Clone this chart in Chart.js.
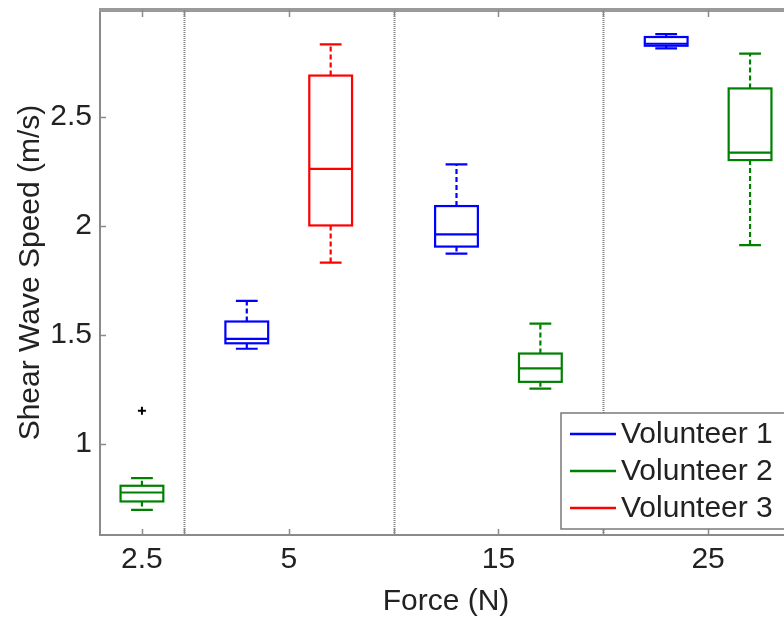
<!DOCTYPE html>
<html>
<head>
<meta charset="utf-8">
<script src="https://cdn.jsdelivr.net/npm/chart.js@4.4.1/dist/chart.umd.min.js"></script>
<style>
  html, body { margin: 0; padding: 0; background: #fff; overflow: hidden; }
  #wrap { width: 784px; height: 627px; overflow: hidden; }
</style>
</head>
<body>
<div id="wrap"><canvas id="chart" width="800" height="627"></canvas></div>
<script>
// categories and tick labels
const forces = ["2.5", "5", "15", "25"];
const yTicks = [1, 1.5, 2, 2.5];

// Volunteer 1
const v1Force = ["5", "15", "25"];
const v1Min = [1.435, 1.872, 2.814];
const v1Q1 = [1.46, 1.904, 2.826];
const v1Median = [1.48, 1.96, 2.835];
const v1Q3 = [1.56, 2.09, 2.866];
const v1Max = [1.655, 2.281, 2.879];
const v1Outliers = [[], [], []];

// Volunteer 2
const v2Force = ["2.5", "15", "25"];
const v2Min = [0.695, 1.252, 1.911];
const v2Q1 = [0.734, 1.283, 2.301];
const v2Median = [0.775, 1.345, 2.335];
const v2Q3 = [0.806, 1.413, 2.63];
const v2Max = [0.841, 1.55, 2.79];
const v2Outliers = [[1.15], [], []];

// Volunteer 3
const v3Force = ["5"];
const v3Min = [1.83];
const v3Q1 = [2.001];
const v3Median = [2.261];
const v3Q3 = [2.689];
const v3Max = [2.832];
const v3Outliers = [[]];

const FONT = "'Liberation Sans', Arial, Helvetica, sans-serif";
const TEXT = "#222";

// layout of the groups on the x axis (first group is narrow, others 5 units)
const groupCenter = [1, 4.5, 9.5, 14.5];
const separators = [2, 7, 12];
const allForces = [v1Force, v2Force, v3Force];

function boxX(force, who) {
  const g = forces.indexOf(force);
  const members = [0, 1, 2].filter((k) => allForces[k].includes(force));
  if (members.length === 1) return groupCenter[g];
  return groupCenter[g] + (members.indexOf(who) === 0 ? -1 : 1);
}

function series(label, who, color, force, min, q1, med, q3, max, outliers) {
  return {
    label,
    borderColor: color,
    backgroundColor: color,
    showLine: false,
    pointRadius: 0,
    data: force.map((f, i) => ({ x: boxX(f, who), y: med[i] })),
    stats: { min, q1, med, q3, max, outliers },
  };
}

const boxPlugin = {
  id: "boxes",
  beforeDatasetsDraw(chart) {
    const { ctx, chartArea: a, scales } = chart;
    ctx.save();
    // dotted separators
    ctx.strokeStyle = "#808080";
    ctx.lineWidth = 2;
    ctx.setLineDash([1, 1]);
    separators.forEach((s) => {
      const x = Math.round(scales.x.getPixelForValue(s)) + 0.5;
      ctx.beginPath();
      ctx.moveTo(x, a.top);
      ctx.lineTo(x, a.bottom);
      ctx.stroke();
    });
    ctx.setLineDash([]);
    // frame
    ctx.strokeStyle = "#8a8a8a";
    ctx.lineWidth = 2;
    ctx.beginPath();
    ctx.moveTo(a.left, a.top);
    ctx.lineTo(a.left, a.bottom);
    ctx.lineTo(a.right, a.bottom);
    ctx.stroke();
    ctx.strokeStyle = "#9a9a9a";
    ctx.lineWidth = 4;
    ctx.beginPath();
    ctx.moveTo(a.left - 1, a.top);
    ctx.lineTo(a.right, a.top);
    ctx.stroke();
    // inward ticks
    ctx.strokeStyle = "#8a8a8a";
    ctx.lineWidth = 1.5;
    groupCenter.concat(separators).forEach((v) => {
      const x = Math.round(scales.x.getPixelForValue(v)) + 0.5;
      ctx.beginPath();
      ctx.moveTo(x, a.bottom);
      ctx.lineTo(x, a.bottom - 6);
      ctx.moveTo(x, a.top);
      ctx.lineTo(x, a.top + 7);
      ctx.stroke();
    });
    yTicks.forEach((v) => {
      const y = Math.round(scales.y.getPixelForValue(v)) + 0.5;
      ctx.beginPath();
      ctx.moveTo(a.left, y);
      ctx.lineTo(a.left + 6, y);
      ctx.stroke();
    });
    ctx.restore();
  },
  afterDatasetsDraw(chart) {
    const { ctx, scales } = chart;
    const xs = scales.x, ys = scales.y;
    const unit = xs.getPixelForValue(1) - xs.getPixelForValue(0);
    const half = unit * 0.51;
    const cap = unit * 0.26;
    ctx.save();
    chart.data.datasets.forEach((ds) => {
      const st = ds.stats;
      ctx.strokeStyle = ds.borderColor;
      ctx.lineWidth = 2.2;
      ds.data.forEach((p, i) => {
        const cx = xs.getPixelForValue(p.x);
        const yMin = ys.getPixelForValue(st.min[i]);
        const yQ1 = ys.getPixelForValue(st.q1[i]);
        const yMed = ys.getPixelForValue(st.med[i]);
        const yQ3 = ys.getPixelForValue(st.q3[i]);
        const yMax = ys.getPixelForValue(st.max[i]);
        // whiskers
        ctx.setLineDash([5, 3]);
        ctx.beginPath();
        ctx.moveTo(cx, yQ3);
        ctx.lineTo(cx, yMax);
        ctx.moveTo(cx, yQ1);
        ctx.lineTo(cx, yMin);
        ctx.stroke();
        ctx.setLineDash([]);
        ctx.beginPath();
        ctx.moveTo(cx - cap, yMax);
        ctx.lineTo(cx + cap, yMax);
        ctx.moveTo(cx - cap, yMin);
        ctx.lineTo(cx + cap, yMin);
        ctx.stroke();
        // box and median
        ctx.strokeRect(cx - half, yQ3, half * 2, yQ1 - yQ3);
        ctx.beginPath();
        ctx.moveTo(cx - half, yMed);
        ctx.lineTo(cx + half, yMed);
        ctx.stroke();
        // outliers
        ctx.strokeStyle = "#000";
        ctx.lineWidth = 2;
        st.outliers[i].forEach((o) => {
          const oy = ys.getPixelForValue(o);
          ctx.beginPath();
          ctx.moveTo(cx - 4, oy);
          ctx.lineTo(cx + 4, oy);
          ctx.moveTo(cx, oy - 4);
          ctx.lineTo(cx, oy + 4);
          ctx.stroke();
        });
        ctx.strokeStyle = ds.borderColor;
        ctx.lineWidth = 2.2;
      });
    });
    ctx.restore();
  },
  afterDraw(chart) {
    // legend box inside the axes, lower right
    const { ctx, chartArea: a } = chart;
    const left = a.left + 461, top = a.top + 403, bottom = a.bottom - 6;
    ctx.save();
    ctx.fillStyle = "#fff";
    ctx.fillRect(left, top, a.right - 4 - left, bottom - top);
    ctx.strokeStyle = "#7a7a7a";
    ctx.lineWidth = 1.5;
    ctx.strokeRect(left, top, a.right - 4 - left, bottom - top);
    ctx.font = "30px " + FONT;
    ctx.textBaseline = "middle";
    ctx.fillStyle = TEXT;
    chart.data.datasets.forEach((ds, k) => {
      const y = top + 21 + k * 37;
      ctx.strokeStyle = ds.borderColor;
      ctx.lineWidth = 2.5;
      ctx.beginPath();
      ctx.moveTo(left + 9, y);
      ctx.lineTo(left + 55, y);
      ctx.stroke();
      ctx.fillText(ds.label, left + 60, y + 1);
    });
    ctx.restore();
  },
};

new Chart(document.getElementById("chart"), {
  type: "line",
  data: {
    datasets: [
      series("Volunteer 1", 0, "#0000ff", v1Force, v1Min, v1Q1, v1Median, v1Q3, v1Max, v1Outliers),
      series("Volunteer 2", 1, "#008000", v2Force, v2Min, v2Q1, v2Median, v2Q3, v2Max, v2Outliers),
      series("Volunteer 3", 2, "#ff0000", v3Force, v3Min, v3Q1, v3Median, v3Q3, v3Max, v3Outliers),
    ],
  },
  options: {
    responsive: false,
    animation: false,
    layout: { padding: { top: 10, right: 8, left: 0, bottom: 0 } },
    plugins: {
      legend: { display: false },
      tooltip: { enabled: false },
    },
    scales: {
      x: {
        type: "linear",
        min: 0,
        max: 16.5,
        afterFit(s) {
          s.height = 92;
          s.paddingLeft = 0;
          s.paddingRight = 0;
        },
        afterBuildTicks(s) {
          s.ticks = groupCenter.map((v) => ({ value: v }));
        },
        ticks: {
          callback: (v, i) => forces[i],
          color: TEXT,
          font: { size: 30, family: FONT },
          padding: 7,
          autoSkip: false,
          maxRotation: 0,
        },
        grid: { display: false, drawTicks: false },
        border: { display: false },
        title: {
          display: true,
          text: "Force (N)",
          color: TEXT,
          font: { size: 30, family: FONT },
          padding: { top: 0, bottom: 7 },
        },
      },
      y: {
        type: "linear",
        min: 0.58,
        max: 2.99,
        afterFit(s) {
          s.width = 100;
          s.paddingTop = 0;
          s.paddingBottom = 0;
        },
        afterBuildTicks(s) {
          s.ticks = yTicks.map((v) => ({ value: v }));
        },
        ticks: {
          callback: (v) => String(v),
          color: TEXT,
          font: { size: 30, family: FONT },
          padding: 8,
        },
        grid: { display: false, drawTicks: false },
        border: { display: false },
        title: {
          display: true,
          text: "Shear Wave Speed (m/s)",
          color: TEXT,
          font: { size: 30, family: FONT },
          padding: { top: 13, bottom: 0 },
        },
      },
    },
  },
  plugins: [boxPlugin],
});
</script>
</body>
</html>
